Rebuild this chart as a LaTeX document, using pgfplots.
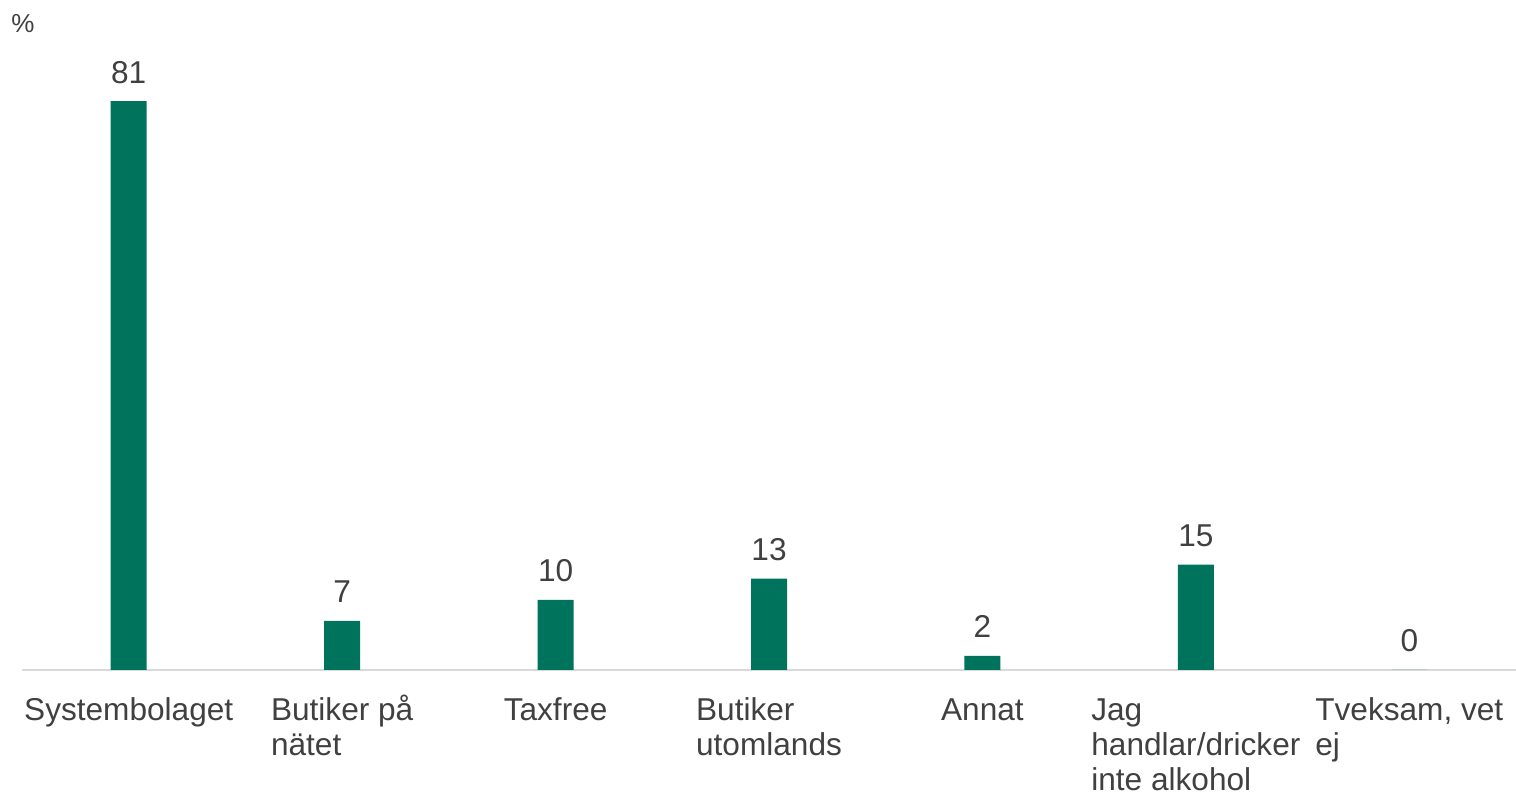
\documentclass[border=0pt]{standalone}
\usepackage{fontspec}
\setmainfont{Liberation Sans}
\usepackage{pgfplots}
\pgfplotsset{compat=1.18}
\definecolor{barGreen}{RGB}{0,115,92}
\definecolor{txt}{RGB}{64,64,64}
\definecolor{axisGray}{RGB}{217,217,217}
\newcommand{\st}{\rule{0pt}{15bp}}
\begin{document}
\begin{tikzpicture}
\begin{axis}[
  scale only axis, width=747bp, height=312.5bp,
  xmin=-0.5, xmax=6.5, ymin=0, ymax=89,
  axis x line*=bottom, axis y line=none,
  x axis line style={axisGray, line width=1bp, -},
  xtick={0,...,6}, major tick length=0pt,
  xticklabels={\st Systembolaget, {\st Butiker på\\nätet}, \st Taxfree, {\st Butiker\\utomlands}, \st Annat, {\st Jag\\handlar/dricker\\inte alkohol}, {\st Tveksam, vet\\ej}},
  xticklabel style={align=left, anchor=north, yshift=-10bp, inner sep=0pt, text=txt,
    font=\fontsize{15.8bp}{17.6bp}\selectfont},
  ytick=\empty,
  /pgf/number format/assume math mode=true,
  nodes near coords,
  nodes near coords style={anchor=base, yshift=9bp, inner sep=0pt, text=txt,
    font=\fontsize{15.8bp}{18.5bp}\selectfont},
  clip=false,
]
\addplot[ybar, bar width=18bp, fill=barGreen, draw=none] coordinates {
  (0,81) (1,7) (2,10) (3,13) (4,2) (5,15) (6,0)
};
\node[anchor=base west, inner sep=0pt, text=txt, font=\fontsize{13bp}{15bp}\selectfont]
  at ([xshift=-5.5bp, yshift=6bp]rel axis cs:0,1) {\%};
\coordinate (bl) at (rel axis cs:0,0);
\coordinate (tr) at (rel axis cs:1,1);
\end{axis}
\pgfresetboundingbox
\path[use as bounding box] ([xshift=-11bp, yshift=-62.5bp]bl) rectangle ([yshift=22.5bp]tr);
\end{tikzpicture}
\end{document}
